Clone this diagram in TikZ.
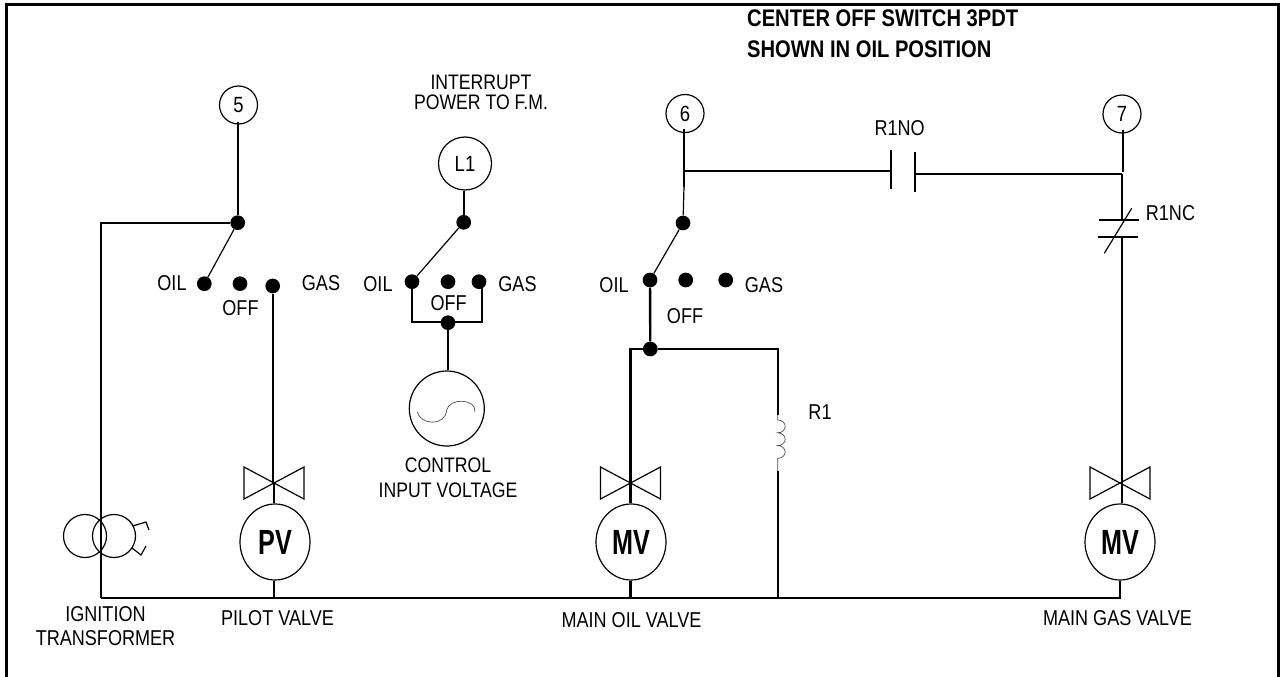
\documentclass[tikz,border=0pt]{standalone}
\usepackage{fontspec}
\setmainfont{Liberation Sans}[FakeStretch=0.84]
\newfontfamily\motorfont{Liberation Sans}[BoldFeatures={FakeStretch=0.72}]
\usetikzlibrary{calc,positioning,shapes.geometric}
\tikzset{
	wire/.style={line width=2.4pt},
	thin wire/.style={line width=1.2pt},
	hair/.style={line width=0.7pt,black!70},
	dot/.style={circle,fill=black,inner sep=0pt,minimum size=14.7pt},
	tag/.style={draw,circle,line width=1.2pt,inner sep=0pt,minimum size=38pt,font=\fontsize{22}{22}\selectfont},
	motor/.style={draw,ellipse,line width=1.2pt,inner sep=0pt,minimum width=70pt,minimum height=76pt,font=\motorfont\fontsize{35}{35}\selectfont\bfseries},
	lbl/.style={inner sep=0pt,align=center,font=\fontsize{21.5}{24}\selectfont},
	valve/.style={line width=1.2pt},
}
\newcommand{\valvetie}[1]{\draw[valve] ($(#1)+(-30,-16)$) -- ($(#1)+(30,16)$) -- ($(#1)+(30,-16)$) -- ($(#1)+(-30,16)$) -- cycle;}
\begin{document}
\begin{tikzpicture}[x=1pt,y=-1pt]
	\useasboundingbox (0,0) rectangle (1280,677);
	% frame
	\draw[line width=3pt] (6.5,677) -- (6.5,4.5) -- (1278,4.5) -- (1278,677);

	% left switch
	\node[tag] (t5) at (238.5,105) {5};
	\node[dot] (c5) at (237.7,222.7) {};
	\node[dot] (oil5) at (204.3,283.7) {};
	\node[dot] (off5) at (240,283.7) {};
	\node[dot] (gas5) at (272.7,286) {};
	\node[lbl] (loil5) at (172,283) {OIL};
	\node[lbl] (loff5) at (240.5,308) {OFF};
	\node[lbl] (lgas5) at (321,283) {GAS};

	% middle switch
	\node[lbl,font=\fontsize{21}{20}\selectfont] (lint) at (481,92) {INTERRUPT\\POWER TO F.M.};
	\node[tag,minimum size=53pt] (l1) at (465,163.5) {L1};
	\node[dot] (c1) at (463.7,222.3) {};
	\node[dot] (oil1) at (412,281.7) {};
	\node[dot] (off1) at (448,281.7) {};
	\node[dot] (gas1) at (479,281.7) {};
	\node[dot] (mid1) at (448,322.7) {};
	\node[lbl] (loil1) at (378,284) {OIL};
	\node[lbl] (loff1) at (448.7,303) {OFF};
	\node[lbl] (lgas1) at (517.5,284) {GAS};
	\node[draw,circle,line width=1.2pt,inner sep=0pt,minimum size=75pt] (src) at (446.8,408.5) {};
	\node[lbl,font=\fontsize{21}{25}\selectfont] (lsrc) at (448,477.5) {CONTROL\\INPUT VOLTAGE};

	% right switch
	\node[tag] (t6) at (685,113.5) {6};
	\coordinate (j6) at (684,170.7);
	\coordinate (k6) at (684,187);
	\node[dot] (c6) at (683,223) {};
	\node[dot] (oil6) at (650,280) {};
	\node[dot] (off6) at (685.7,280) {};
	\node[dot] (gas6) at (725.7,280) {};
	\node[dot] (mid6) at (650.3,349) {};
	\node[lbl] (loil6) at (614,285) {OIL};
	\node[lbl] (loff6) at (685,316) {OFF};
	\node[lbl] (lgas6) at (764,285) {GAS};
	\node[lbl] (lr1) at (820,412) {R1};
	\coordinate (r1top) at (777.7,415);
	\coordinate (r1bot) at (777.7,471);

	% contacts
	\node[tag] (t7) at (1122,114) {7};
	\coordinate (no1) at (891,170.7);
	\coordinate (no2) at (915,173.7);
	\coordinate (j7) at (1122,173.7);
	\coordinate (nc1) at (1122,219.7);
	\coordinate (nc2) at (1122,236.7);
	\node[lbl] (lno) at (899.7,127.7) {R1NO};
	\node[lbl,anchor=west] (lnc) at (1145.7,212.7) {R1NC};

	% valves and motors
	\node[motor] (pv) at (275,542) {PV};
	\node[motor] (mv1) at (631,542) {MV};
	\node[motor] (mv2) at (1120,542) {MV};
	\coordinate (v5) at (274,483);
	\coordinate (v6) at (630.5,483);
	\coordinate (v7) at (1120,483);
	\coordinate (bl) at (101,597.7);
	\coordinate (br) at (1121,597.7);

	% bottom labels
	\node[lbl] (lign) at (105.5,626.5) {IGNITION\\TRANSFORMER};
	\node[lbl] (lpv) at (277.5,618) {PILOT VALVE};
	\node[lbl] (lmo) at (631.5,620) {MAIN OIL VALVE};
	\node[lbl] (lmg) at (1117.5,618) {MAIN GAS VALVE};
	\node[lbl,anchor=west,font=\fontsize{24}{31}\selectfont\bfseries,align=left] (ltitle) at (747,33.5) {CENTER OFF SWITCH 3PDT\\SHOWN IN OIL POSITION};

	% wiring
	\draw[wire] ($(c5|-t5.south)+(0,-3)$) -- (c5);
	\draw[wire] (c5) -- (101,222.7) -- (bl);
	\draw[thin wire] (c5) -- (oil5);
	\draw[wire] (gas5) -- (gas5|-v5);
	\draw[wire] (v5) -- (v5|-pv.north);
	\draw[wire] (v5|-pv.south) -- (v5|-bl);
	\draw[wire] (bl) -- (br);

	\draw[wire] (l1.south-|c1) -- (c1);
	\draw[thin wire] (c1) -- (oil1);
	\draw[wire] (oil1) -- (412,321.7) -- (481.7,321.7) -- (481.7,281.7);
	\draw[wire] (mid1) -- (mid1|-src.north);
	\draw[hair] (417.3,411.7) .. controls (420,425) and (445,427) .. (446.7,410) .. controls (449,398) and (476,398) .. (475,411.7);

	\draw[wire] ($(t6.south)+(-1,-4)$) -- (k6);
	\draw[thin wire] (k6) -- (c6);
	\draw[thin wire] (c6) -- (oil6);
	\draw[wire] (oil6) -- (mid6);
	\draw[wire] (j6) -- (no1);
	\draw[wire] (no2) -- (j7);
	\draw[wire] (no1)+(0,-20.7) -- +(0,18.6);
	\draw[wire] (no2)+(0,-21.7) -- +(0,18);
	\draw[wire] ($(t7.south)+(1,-4)$) -- (1123,171.7);
	\draw[wire] (j7) -- (nc1);
	\draw[wire] (nc2) -- (1122,483);
	\draw[wire] (nc1)+(-22.7,0) -- +(16.7,0);
	\draw[wire] (nc2)+(-23.7,0) -- +(15.7,0);
	\draw[thin wire] (1104.3,253.3) -- (1131.7,208.3);

	\draw[wire] (mid6) -- (v6|-mid6) -- (v6);
	\draw[wire] (v6) -- (v6|-mv1.north);
	\draw[wire] (v6|-mv1.south) -- (v6|-bl);
	\draw[wire] (mid6) -- (r1top|-mid6) -- (r1top);
	\draw[wire] (r1bot) -- (777.7,597.7);
	\draw[hair] (r1top) -- (777.7,420) arc[start angle=90,end angle=-90,x radius=7.5pt,y radius=6.4pt] arc[start angle=90,end angle=-90,x radius=7.5pt,y radius=6.4pt] arc[start angle=90,end angle=-90,x radius=7.5pt,y radius=6.4pt] -- (r1bot);

	\draw[wire] (1122,483) -- (mv2.north-|1122,0);
	\draw[wire] (mv2.south) -- (mv2|-br);

	% valve bowties
	\valvetie{v5}
	\valvetie{v6}
	\valvetie{v7}

	% transformer
	\node[draw,circle,line width=1.2pt,inner sep=0pt,minimum size=43pt] (tr1) at (85,536) {};
	\node[draw,circle,line width=1.2pt,inner sep=0pt,minimum size=43pt] (tr2) at (114,536) {};
	\draw[thin wire] (132.7,526) -- (146,522) -- (149,530);
	\draw[thin wire] (132,548) -- (141,555) -- (146,546);
\end{tikzpicture}
\end{document}
